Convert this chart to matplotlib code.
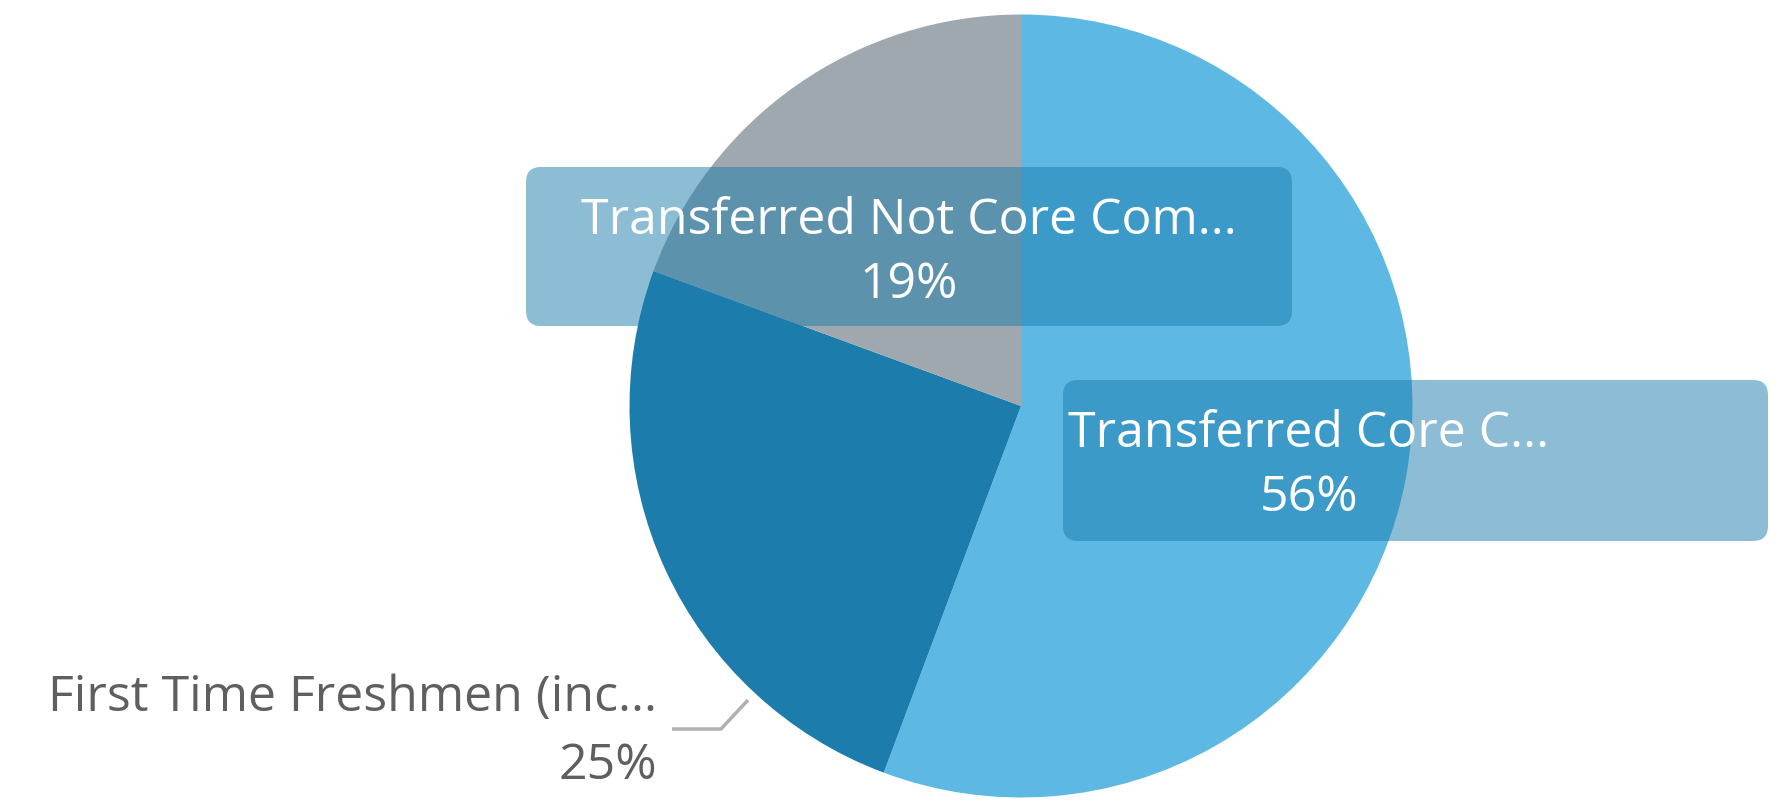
import matplotlib
matplotlib.use("Agg")
import matplotlib.pyplot as plt
from matplotlib.patches import FancyBboxPatch

# data
labels = ["Transferred Core C...", "First Time Freshmen (inc...", "Transferred Not Core Com..."]
values = [55.7, 24.9, 19.4]
colors = ["#5DB8E4", "#1C7DAD", "#A0A8AF"]

W, H = 1777, 801
plt.rcParams['font.family'] = ['Open Sans', 'DejaVu Sans']
FS = 36

fig = plt.figure(figsize=(W / 100, H / 100), dpi=100)
ax = fig.add_axes([0, 0, 1, 1])

# pie (y is counted from the bottom)
cx, cy, r = 1021, H - 406, 391.5
ax.pie(values, colors=colors, startangle=90, counterclock=False,
       center=(cx, cy), radius=r, frame=True,
       wedgeprops=dict(linewidth=0, zorder=1))
ax.set_xlim(0, W)
ax.set_ylim(0, H)
ax.set_aspect('equal')
ax.axis('off')

box_col = "#1C7DAD"
total = sum(values)

def pct(v):
    return "%d%%" % round(100 * v / total)

def label_box(x0, x1, ytop, ybot, tx, name, val):
    b = FancyBboxPatch((x0 + 15, H - ybot + 15), (x1 - x0) - 30, (ybot - ytop) - 30,
                       boxstyle="round,pad=15", fc=box_col, ec='none', alpha=0.5, zorder=2)
    ax.add_patch(b)
    ax.text(tx, H - (ytop + 54), name, color='white', fontsize=FS,
            ha='center', va='center', zorder=4)
    ax.text(tx, H - (ytop + 118), pct(val), color='white', fontsize=FS,
            ha='center', va='center', zorder=4)

# Transferred Not Core
label_box(526, 1292, 167, 326, 909, labels[2], values[2])
# Transferred Core
label_box(1063, 1768, 380, 541, 1309, labels[0], values[0])

# outside label for First Time Freshmen
ax.text(657, H - 698, labels[1], color='#5F5F5F', fontsize=FS,
        ha='right', va='center', zorder=4)
ax.text(657, H - 766, pct(values[1]), color='#5F5F5F', fontsize=FS,
        ha='right', va='center', zorder=4)
ax.plot([672, 721, 748], [H - 729, H - 729, H - 700], color='#B0B0B0', lw=2.5,
        solid_capstyle='butt', zorder=3)

fig.savefig("out.png", dpi=100)
